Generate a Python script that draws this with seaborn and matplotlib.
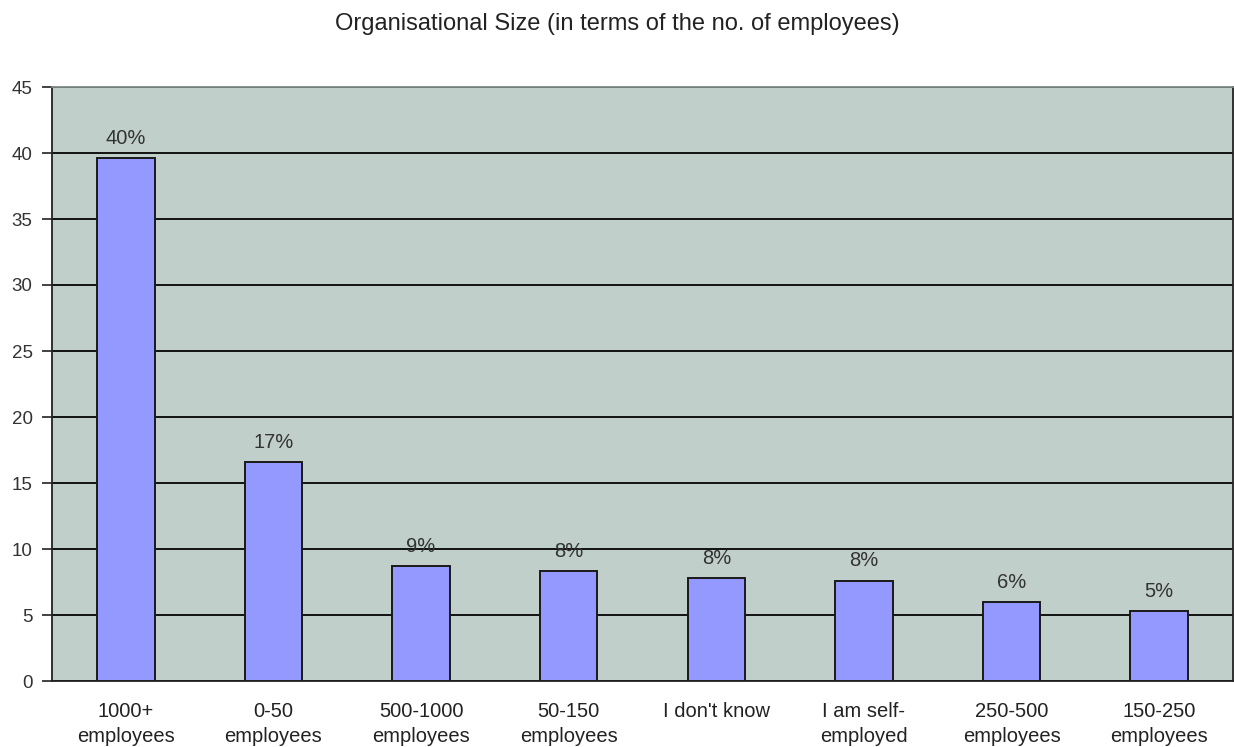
import matplotlib
matplotlib.use("Agg")
import matplotlib.pyplot as plt
import seaborn as sns
import pandas as pd

# Survey responses: organisational size
categories = ["1000+\nemployees", "0-50\nemployees", "500-1000\nemployees", "50-150\nemployees",
              "I don't know", "I am self-\nemployed", "250-500\nemployees", "150-250\nemployees"]
values = [39.6, 16.6, 8.7, 8.3, 7.8, 7.6, 6.0, 5.3]
yticks = [0, 5, 10, 15, 20, 25, 30, 35, 40, 45]
title = "Organisational Size (in terms of the no. of employees)"

sns.set_theme(style="white")
plt.rcParams["font.family"] = ["Liberation Sans", "DejaVu Sans"]

df = pd.DataFrame({"size": categories, "pct": values})

fig = plt.figure(figsize=(12.34, 7.47), dpi=100)
ax = fig.add_axes([52 / 1234, 1 - 681 / 747, (1233 - 52) / 1234, (681 - 87) / 747])
ax.set_facecolor("#C0CFCA")
ax.set_axisbelow(True)

sns.barplot(data=df, x="size", y="pct", ax=ax, color="#9499FF", width=0.39,
            edgecolor="#1a1a1a", linewidth=1.4, saturation=1)

ax.set_ylim(0, 45)
ax.set_xlim(-0.5, len(categories) - 0.5)
ax.set_yticks(yticks)
ax.yaxis.grid(True, color="#111111", linewidth=1.4)
ax.xaxis.grid(False)

for i, v in enumerate(values):
    ax.text(i, v + 1.5, f"{v:.0f}%", ha="center", va="center", fontsize=14.5, color="#333333")

ax.set_xlabel("")
ax.set_ylabel("")
ax.tick_params(axis="x", which="major", length=0, pad=15, labelsize=14.5, labelcolor="#222222")
for lbl in ax.get_xticklabels():
    lbl.set_linespacing(1.43)
    lbl.set_verticalalignment("top")
ax.set_xticks([i - 0.5 for i in range(len(categories) + 1)], minor=True)
ax.tick_params(axis="x", which="minor", length=5.5, width=1.2, color="#222222", direction="out")
ax.tick_params(axis="y", length=7.5, width=1.2, color="#222222", direction="out", left=True,
               labelsize=13.5, labelcolor="#333333", pad=6.5)

for side in ["left", "bottom", "right", "top"]:
    ax.spines[side].set_color("#222222")
    ax.spines[side].set_linewidth(1.3)
ax.spines["top"].set_color("#7f8a87")

fig.text(617 / 1234, 1 - 30 / 747, title, ha="center", va="baseline", fontsize=17, color="#222222")

fig.savefig("out.png", dpi=100, facecolor="white")
